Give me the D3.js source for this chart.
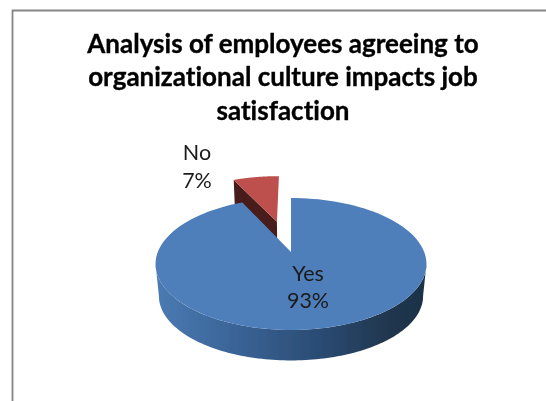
<!DOCTYPE html>
<html><head><meta charset="utf-8">
<script src="https://cdnjs.cloudflare.com/ajax/libs/d3/7.8.5/d3.min.js"></script>
<style>html,body{margin:0;padding:0;background:#fff;overflow:hidden}svg{display:block}text{font-family:Lato,"Open Sans",sans-serif;font-variant-ligatures:none}</style>
</head><body><svg id="c" width="546" height="401"></svg>
<script>
const categories = ["Yes", "No"];
const values = [93, 7];
const percentLabels = ["93%", "7%"];
const titleLines = ["Analysis of employees agreeing to", "organizational culture impacts job", "satisfaction"];

const svg = d3.select("#c");
const defs = svg.append("defs");
const grad = defs.append("linearGradient").attr("id","wall").attr("x1","0").attr("x2","1").attr("y1","0").attr("y2","0");
[[0,"#4a7bb3"],[0.3,"#3a6396"],[0.6,"#2b4c74"],[0.85,"#203750"],[1,"#1e3248"]].forEach(s=>grad.append("stop").attr("offset",s[0]).attr("stop-color",s[1]));
const soft = defs.append("filter").attr("id","soft");
soft.append("feGaussianBlur").attr("stdDeviation",0.45);

svg.append("path").attr("d","M12.5,401V10.5H546").attr("fill","none").attr("stroke","#868686").attr("stroke-width",1.8);

const g = svg.append("g").attr("filter","url(#soft)");

// perspective projection of a unit disc lying in the chart plane
const cx=291, cy=252, a=63.8, b=133.2, k=0.1818, depth=32.4, shrink=0.975;
function proj(u,v,lower){
  const s=1/(1-k*v);
  const m=lower?shrink:1;
  return [cx+b*u*s*m, cy+a*v*s*m+(lower?depth:0)];
}
const rim=(t,ex,ey,lower)=>proj(Math.sin(t)+ex,-Math.cos(t)+ey,lower);
const line=d3.line();

const arcs=d3.pie().sort(null).value(d=>d)(values);
const colors=["#4f7fba","#bd504d"];
const explode=[0,0.53];

function angles(a0,a1){return d3.range(0,121).map(i=>a0+(a1-a0)*i/120);}

function slicePts(d,i,lower){
  const mid=(d.startAngle+d.endAngle)/2;
  const ex=Math.sin(mid)*explode[i], ey=-Math.cos(mid)*explode[i];
  return {ex,ey,pts:[proj(ex,ey,lower),...angles(d.startAngle,d.endAngle).map(t=>rim(t,ex,ey,lower))]};
}

// No slice: cut wall then top face, drawn behind Yes
{
  const d=arcs[1];
  const top=slicePts(d,1,false), bot=slicePts(d,1,true);
  const wall=[top.pts[0],top.pts[1],bot.pts[1],bot.pts[0]];
  g.append("path").attr("d",line(wall)+"Z").attr("fill","#4a1d1b");
  g.append("path").attr("d",line(top.pts)+"Z").attr("fill",colors[1]);
}
// Yes slice: outer wall then top face
{
  const d=arcs[0];
  const t0=Math.PI-Math.acos(k), t1=Math.PI+Math.acos(k);
  const ts=angles(Math.min(t0,t1),Math.max(t0,t1));
  const wallPts=[...ts.map(t=>rim(t,0,0,false)),...ts.slice().reverse().map(t=>rim(t,0,0,true))];
  g.append("path").attr("d",line(wallPts)+"Z").attr("fill","url(#wall)");
  g.append("path").attr("d",line(slicePts(d,0,false).pts)+"Z").attr("fill",colors[0]);
}

// labels
const labelAt=[[308,281,308],[197,160,188]];
categories.forEach((c,i)=>{
  const [x,y1,y2]=labelAt[i];
  g.append("text").attr("x",x).attr("y",y1).attr("text-anchor","middle").attr("font-size",21.5).attr("fill","#1a1a1a").text(c);
  g.append("text").attr("x",x).attr("y",y2).attr("text-anchor","middle").attr("font-size",21.5).attr("fill","#1a1a1a").text(percentLabels[i]);
});
// title
const titleY=[53,86,120];
titleLines.forEach((t,i)=>{
  g.append("text").attr("x",283).attr("y",titleY[i]).attr("text-anchor","middle").attr("font-size",26).attr("font-weight",700).attr("fill","#000").attr("stroke","#000").attr("stroke-width",0.35).text(t);
});
</script></body></html>
